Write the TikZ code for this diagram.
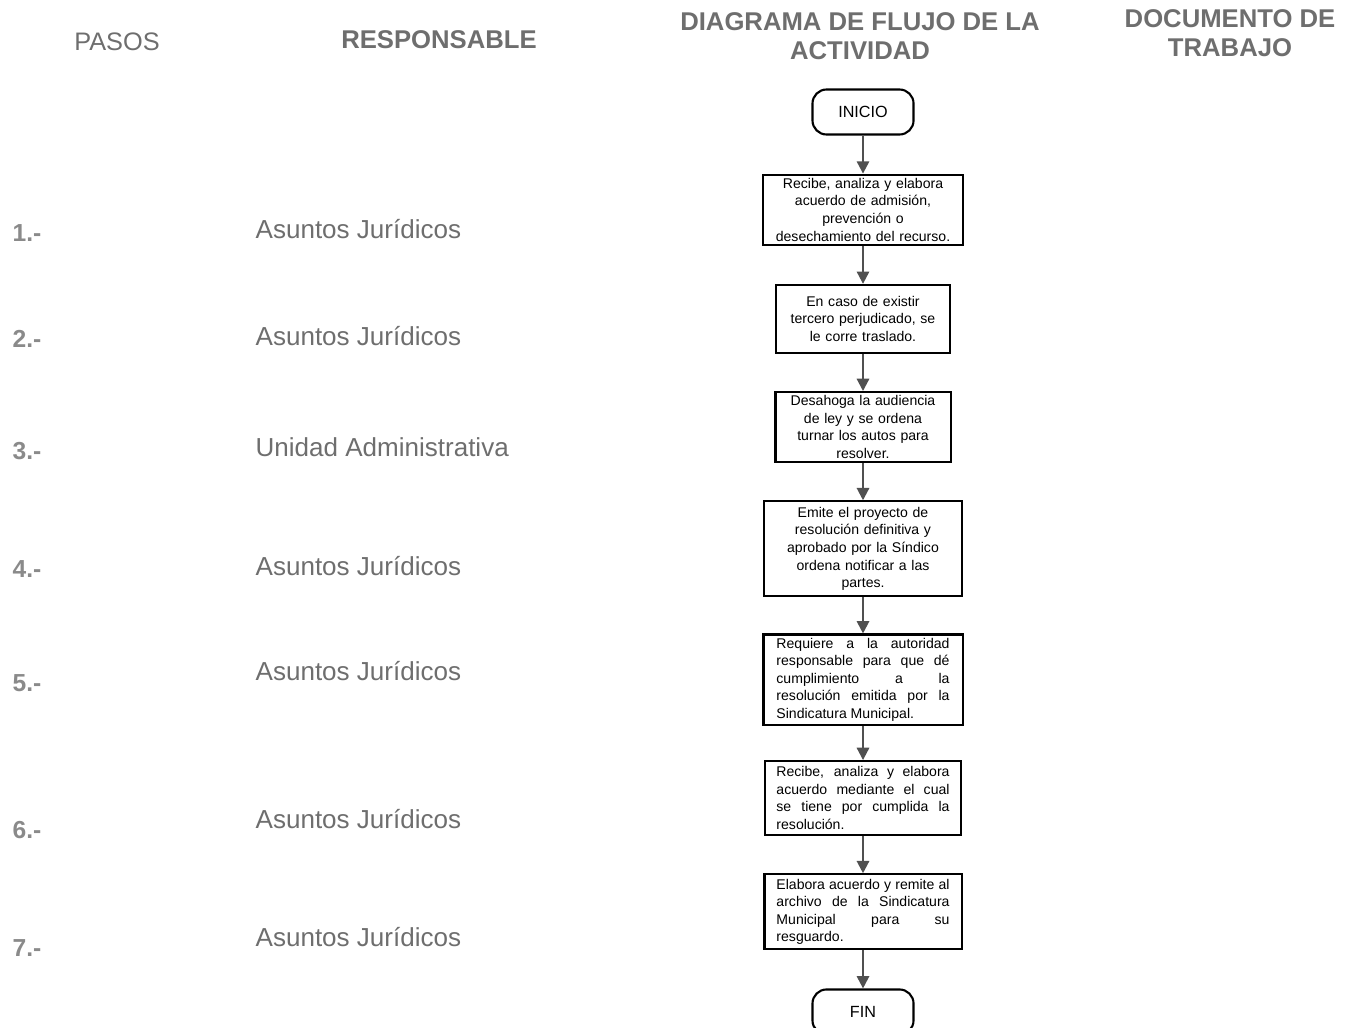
\documentclass[tikz,border=0pt]{standalone}
\usepackage{fontspec}
\setmainfont{Liberation Sans}
\usetikzlibrary{positioning,arrows.meta}
\definecolor{headgray}{HTML}{6E6E6E}
\definecolor{numgray}{HTML}{8A8A8A}
\definecolor{arrowgray}{HTML}{505050}

\begin{document}
\begin{tikzpicture}[x=0.01cm, y=-0.01cm,
    head/.style={font=\fontsize{7.3}{8.2}\selectfont\bfseries, text=headgray, align=center},
    paso/.style={font=\fontsize{7}{8}\selectfont\bfseries, text=numgray, anchor=west, inner sep=0pt},
    resp/.style={font=\fontsize{7.4}{8.4}\selectfont, text=headgray, anchor=west, inner sep=0pt},
    caja/.style={rectangle, draw, line width=0.6pt, font=\fontsize{4}{5}\selectfont, inner ysep=1pt, inner xsep=0.035cm},
    term/.style={rectangle, rounded corners=4pt, draw, line width=0.6pt, minimum width=1.01cm, minimum height=0.45cm, font=\fontsize{4.6}{5.5}\selectfont},
    flecha/.style={draw=arrowgray, line width=0.6pt, -{Triangle[width=3.5pt,length=3.5pt]}},
    node distance=0.38cm]
    \useasboundingbox (0,0) rectangle (1349,1027);

    % encabezados
    \node[head, font=\fontsize{7.2}{8.2}\selectfont] (pasos) at (117,42) {PASOS};
    \node[head] (responsable) at (439,40) {RESPONSABLE};
    \node[head] (diagrama) at (860,36) {DIAGRAMA DE FLUJO DE LA\\ACTIVIDAD};
    \node[head] (documento) at (1230,33) {DOCUMENTO DE\\TRABAJO};

    % pasos y responsables
    \foreach \n/\y in {1/233,2/339,3/451,4/569,5/683,6/830,7/948}
        \node[paso] (n\n) at (12,\y) {\n.-};
    \foreach \n/\y/\t in {1/229/Asuntos Jurídicos, 2/336/Asuntos Jurídicos, 3/447/Unidad Administrativa,
                          4/566/Asuntos Jurídicos, 5/671/Asuntos Jurídicos, 6/819/Asuntos Jurídicos, 7/937/Asuntos Jurídicos}
        \node[resp] (r\n) at (255,\y) {\t};

    % diagrama
    \node[term] (inicio) at (863,112) {INICIO};
    \node[caja, below=of inicio, text width=1.93cm, align=center, minimum height=0.70cm] (p1)
        {Recibe, analiza y elabora\\acuerdo de admisión,\\prevención o\\desechamiento del recurso.};
    \node[caja, below=of p1, text width=1.67cm, align=center, minimum height=0.68cm] (p2)
        {En caso de existir\\tercero perjudicado, se\\le corre traslado.};
    \node[caja, below=0.37cm of p2, text width=1.68cm, align=center, minimum height=0.69cm] (p3)
        {Desahoga la audiencia\\de ley y se ordena\\turnar los autos para\\resolver.};
    \node[caja, below=0.37cm of p3, text width=1.91cm, align=center, minimum height=0.95cm] (p4)
        {Emite el proyecto de\\resolución definitiva y\\aprobado por la Síndico\\ordena notificar a las\\partes.};
    \node[caja, below=0.36cm of p4, text width=1.73cm, inner xsep=0.13cm, align=justify, minimum height=0.90cm] (p5)
        {Requiere a la autoridad\linebreak responsable para que dé\linebreak cumplimiento a la\linebreak resolución emitida por la\linebreak Sindicatura Municipal.};
    \node[caja, below=0.34cm of p5, text width=1.73cm, inner xsep=0.115cm, align=justify, minimum height=0.74cm] (p6)
        {Recibe, analiza y elabora\linebreak acuerdo mediante el cual\linebreak se tiene por cumplida la\linebreak resolución.};
    \node[caja, below=0.37cm of p6, text width=1.73cm, inner xsep=0.12cm, align=justify, minimum height=0.75cm] (p7)
        {Elabora acuerdo y remite al\linebreak archivo de la Sindicatura\linebreak Municipal para su\linebreak resguardo.};
    \node[term, below=of p7] (fin) {FIN};

    \foreach \a/\b in {inicio/p1, p1/p2, p2/p3, p3/p4, p4/p5, p5/p6, p6/p7, p7/fin}
        \draw[flecha] (\a) -- (\b);
\end{tikzpicture}
\end{document}
